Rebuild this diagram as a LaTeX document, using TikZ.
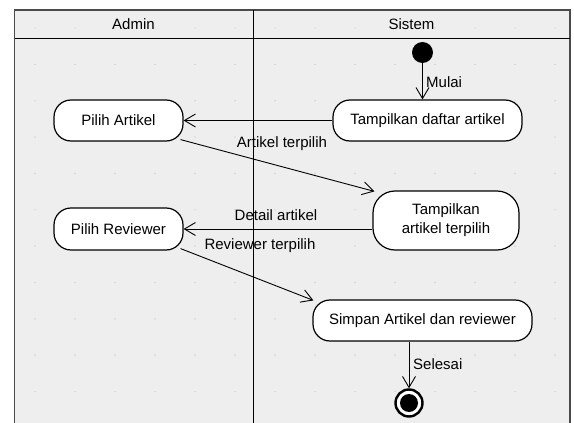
\documentclass[tikz,border=0pt]{standalone}
\usepackage{fontspec}
\setmainfont{Liberation Sans}
\usetikzlibrary{arrows.meta,calc}
\definecolor{bgc}{HTML}{EEEEEE}
\definecolor{framec}{HTML}{4A4A4A}
\definecolor{dotc}{HTML}{C6C6C6}
\newcommand\actfont{\fontsize{15}{19}\selectfont}
\begin{document}
\begin{tikzpicture}[x=1pt,y=-1pt,
  act/.style={draw=black, line width=1.2pt, fill=white, rounded corners=17pt,
    inner sep=0pt, font=\actfont, align=center},
  flow/.style={draw=black, line width=0.9pt,
    -{Straight Barb[length=11pt,width=13pt,line width=0.9pt]}},
  lbl/.style={font=\actfont, inner sep=1pt},
  lane/.style={font=\actfont, inner sep=0pt}
]
\useasboundingbox (0,0) rectangle (574,423);
\fill[white] (0,0) rectangle (574,423);
\fill[bgc] (14.5,10) rectangle (570,423);
% grid dots
\foreach \x in {35,75,...,555}{
  \foreach \k in {0,...,10}{
    \fill[dotc] (\x,{28+36.35*\k}) circle (0.7pt);
  }
}
% frame and lanes
\draw[framec, line width=1.8pt] (14.5,423) -- (14.5,10) -- (570,10) -- (570,423);
\draw[black, line width=1pt] (14.5,38) -- (570,38);
\draw[black, line width=1pt] (253,10) -- (253,423);
\node[lane] (hadmin) at (133.5,24) {Admin};
\node[lane] (hsistem) at (411.5,24) {Sistem};

% activities
\node[act, minimum width=129pt, minimum height=41pt] (pa) at (118.5,120.5) {Pilih Artikel};
\node[act, minimum width=189pt, minimum height=41pt] (tda) at (427.5,120.5) {Tampilkan daftar artikel};
\node[act, minimum width=146pt, minimum height=59pt, rounded corners=22pt] (tat) at (446,220.5) {Tampilkan\\artikel terpilih};
\node[act, minimum width=129pt, minimum height=42pt] (pr) at (118.5,229) {Pilih Reviewer};
\node[act, minimum width=219pt, minimum height=41pt] (sv) at (422.5,320.5) {Simpan Artikel dan reviewer};

% start / end
\node[circle, fill=black, minimum size=21pt, inner sep=0pt] (st) at (422.5,52.5) {};
\node[circle, draw=black, line width=2.4pt, fill=white, minimum size=27pt, inner sep=0pt] (en) at (409,403) {};
\node[circle, fill=black, minimum size=18pt, inner sep=0pt] (enin) at (en) {};

% flows
\draw[flow] (st.south) -- (st.south |- tda.north);
\draw[flow] (tda.west) -- (pa.east);
\draw[flow] ($(pa.south east)+(-3,-2)$) -- ($(tat.north west)+(2,1)$);
\draw[flow] (tat.west |- pr.east) -- (pr.east);
\draw[flow] ($(pr.south east)+(-3,-2)$) -- ($(sv.north west)+(1,1)$);
\draw[flow] (en |- sv.south) -- (en.north);

% labels
\node[lbl, anchor=west] (lmulai) at (425,82) {Mulai};
\node[lbl] (lart) at (282,144) {Artikel terpilih};
\node[lbl] (ldet) at (276,215.5) {Detail artikel};
\node[lbl] (lrev) at (260,245.5) {Reviewer terpilih};
\node[lbl, anchor=west] (lsel) at (412,364.5) {Selesai};
\end{tikzpicture}
\end{document}
